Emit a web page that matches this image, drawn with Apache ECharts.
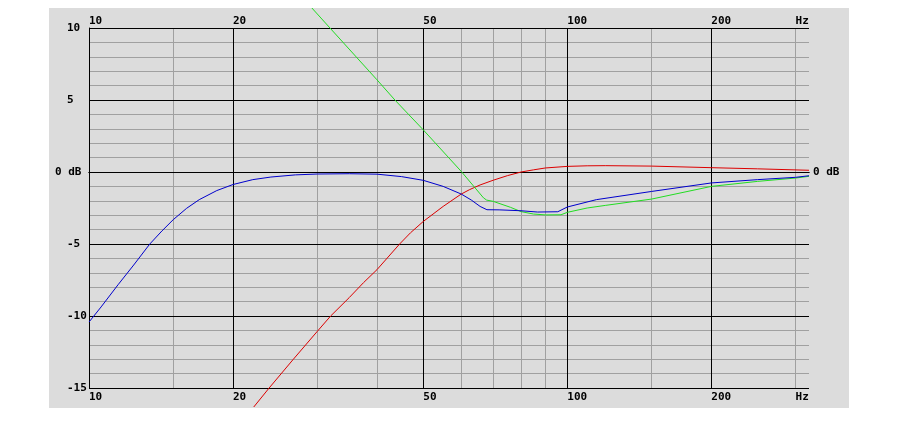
<!DOCTYPE html>
<html>
<head>
<meta charset="utf-8">
<script src="https://cdn.jsdelivr.net/npm/echarts@6/dist/echarts.min.js"></script>
<style>
html,body{margin:0;padding:0;background:#fff;width:899px;height:436px;overflow:hidden;}
#chart{position:absolute;left:49px;top:8px;width:800px;height:400px;}
</style>
</head>
<body>
<div id="chart"></div>
<script>
// Frequency axis (Hz)
const xMin = 10;
const xMax = 320;
const xMajorTicks = [10, 20, 50, 100, 200];
const xMinorTicks = [15, 30, 40, 60, 70, 80, 90, 150, 300];
const xLabelTicks = [10, 20, 50, 100, 200, 300];
// Level axis (dB)
const yMin = -15;
const yMax = 10;

// Blue curve
const freqBlue = [10, 10.6, 11.5, 12.4, 13.4, 14.2, 15, 16, 17, 18.5, 20, 22, 24, 27, 30, 35, 40, 45, 50, 55, 60, 63, 65.7, 67.9, 72, 80, 86.6, 95.5, 100, 115, 150, 200, 250, 300, 320];
const dbBlue   = [-10.42, -9.37, -7.83, -6.46, -5.0, -4.1, -3.31, -2.52, -1.92, -1.29, -0.87, -0.53, -0.35, -0.2, -0.14, -0.12, -0.15, -0.32, -0.58, -1.0, -1.53, -1.95, -2.39, -2.62, -2.63, -2.69, -2.78, -2.76, -2.43, -1.92, -1.35, -0.76, -0.53, -0.37, -0.26];
// Green curve
const freqGreen = [29.2, 31.9, 40, 43.6, 50, 60, 66.8, 67.8, 70, 76, 80, 85, 90, 97, 100, 110, 120, 150, 200, 250, 300, 320];
const dbGreen   = [11.41, 10, 6.4, 5, 2.92, 0.04, -1.8, -1.95, -2.04, -2.45, -2.75, -2.92, -2.98, -2.97, -2.8, -2.5, -2.32, -1.88, -1.0, -0.65, -0.42, -0.3];
// Red curve
const freqRed = [22.1, 23.8, 26.7, 30, 32, 35, 37.5, 40, 44.6, 47, 50, 55, 60, 62.5, 65.7, 70, 75, 80, 85, 90, 100, 110, 120, 150, 200, 250, 320];
const dbRed   = [-16.32, -15, -13.03, -11.07, -10, -8.72, -7.68, -6.78, -5, -4.22, -3.43, -2.39, -1.53, -1.22, -0.9, -0.57, -0.25, 0.0, 0.15, 0.28, 0.39, 0.43, 0.44, 0.41, 0.3, 0.22, 0.12];

function pairs(xs, ys) { return xs.map((x, i) => [x, ys[i]]); }

const FONT = 'DejaVu Sans Mono';
const labelStyle = { fontFamily: FONT, fontWeight: 'bold', fontSize: 11, color: '#000' };
function hzFmt(v) { const r = Math.round(v); return r === 300 ? 'Hz' : String(r); }

const chart = echarts.init(document.getElementById('chart'), null, { renderer: 'canvas' });
chart.setOption({
  backgroundColor: '#dcdcdc',
  animation: false,
  grid: { left: 40, top: 20, width: 720, height: 360, containLabel: false },
  xAxis: [
    { // minor vertical lines + bottom labels
      type: 'log', logBase: 10, min: xMin, max: xMax, position: 'bottom', z: 1,
      axisLine: { show: true, lineStyle: { color: '#000', width: 1 } },
      axisTick: { show: false, customValues: xMinorTicks },
      splitLine: { show: true, lineStyle: { color: '#a0a0a0', width: 1 } },
      axisLabel: Object.assign({ show: true, customValues: xLabelTicks, formatter: hzFmt, align: 'left', margin: 4 }, labelStyle)
    },
    { // major vertical lines + top labels
      type: 'log', logBase: 10, min: xMin, max: xMax, position: 'top', z: 3,
      axisLine: { show: true, lineStyle: { color: '#000', width: 1 } },
      axisTick: { show: false, customValues: xMajorTicks },
      splitLine: { show: true, lineStyle: { color: '#000', width: 1 } },
      axisLabel: Object.assign({ show: true, customValues: xLabelTicks, formatter: hzFmt, align: 'left', margin: 1 }, labelStyle)
    }
  ],
  yAxis: [
    { // minor horizontal lines
      type: 'value', min: yMin, max: yMax, interval: 1, position: 'left', z: 1,
      axisLine: { show: false }, axisTick: { show: false },
      axisLabel: { show: false },
      splitLine: { show: true, lineStyle: { color: '#a0a0a0', width: 1 } }
    },
    { // major horizontal lines + labels
      type: 'value', min: yMin, max: yMax, interval: 5, position: 'left', z: 2,
      axisLine: { show: true, lineStyle: { color: '#000', width: 1 } }, axisTick: { show: false },
      axisLabel: Object.assign({ formatter: v => (v === 0 ? '' : String(v)), align: 'left', margin: 22, padding: [6, 0, 0, 0] }, labelStyle),
      splitLine: { show: true, lineStyle: { color: '#000', width: 1 } }
    },
    { // 0 dB label left
      type: 'value', min: yMin, max: yMax, interval: 5, position: 'left', z: 2,
      axisLine: { show: false }, axisTick: { show: false }, splitLine: { show: false },
      axisLabel: Object.assign({ formatter: v => (v === 0 ? '0 dB' : ''), align: 'left', margin: 34, padding: [5, 0, 0, 0] }, labelStyle)
    },
    { // 0 dB label right
      type: 'value', min: yMin, max: yMax, interval: 5, position: 'right', z: 2,
      axisLine: { show: false }, axisTick: { show: false }, splitLine: { show: false },
      axisLabel: Object.assign({ formatter: v => (v === 0 ? '0 dB' : ''), align: 'left', margin: 4, padding: [5, 0, 0, 0] }, labelStyle)
    }
  ],
  series: [
    { type: 'line', name: 'red', data: pairs(freqRed, dbRed), xAxisIndex: 0, yAxisIndex: 0, clip: false, smooth: false, showSymbol: false, z: 10,
      lineStyle: { color: '#dd0000', width: 1 } },
    { type: 'line', name: 'green', data: pairs(freqGreen, dbGreen), xAxisIndex: 0, yAxisIndex: 0, clip: false, smooth: false, showSymbol: false, z: 11,
      lineStyle: { color: '#22dd22', width: 1 } },
    { type: 'line', name: 'blue', data: pairs(freqBlue, dbBlue), xAxisIndex: 0, yAxisIndex: 0, clip: false, smooth: false, showSymbol: false, z: 12,
      lineStyle: { color: '#0000cc', width: 1 } }
  ]
});
</script>
</body>
</html>
